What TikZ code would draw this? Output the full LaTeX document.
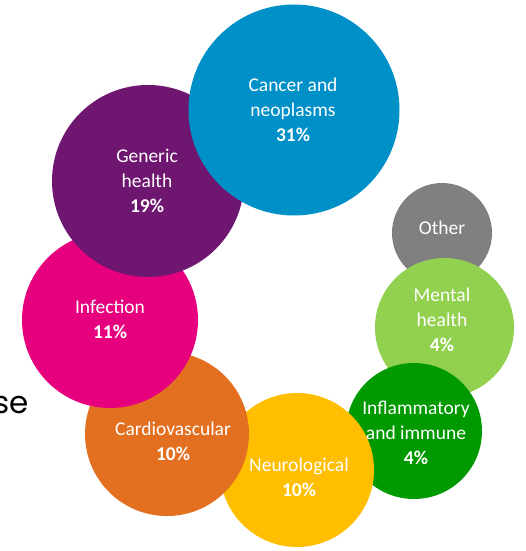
\documentclass[tikz,border=0pt]{standalone}
\usepackage{fontspec}
\setmainfont{Carlito}
\newfontfamily\gothic{Poppins}
\definecolor{cBlue}{RGB}{0,144,200}
\definecolor{cPurple}{RGB}{110,22,112}
\definecolor{cPink}{RGB}{230,0,126}
\definecolor{cOrange}{RGB}{227,112,32}
\definecolor{cYellow}{RGB}{255,190,0}
\definecolor{cGreen}{RGB}{0,154,0}
\definecolor{cLight}{RGB}{146,208,80}
\definecolor{cGrey}{RGB}{128,128,128}
\begin{document}
\begin{tikzpicture}[x=1pt,y=-1pt,
  bubble/.style={circle,draw=none,inner sep=0pt,minimum size=#1},
  lbl/.style={text=white,align=center,inner sep=0pt,font=\fontsize{19.5}{25}\selectfont}]
\useasboundingbox (0,0) rectangle (526,551);
% draw order: back to front
\node[bubble=100pt,fill=cGrey]   (other)  at (442,233) {};
\node[bubble=139pt,fill=cLight]  (mental) at (444.5,327.5) {};
\node[bubble=136pt,fill=cGreen]  (inflam) at (414,431) {};
\node[bubble=154pt,fill=cYellow] (neuro)  at (297,470) {};
\node[bubble=164pt,fill=cOrange] (cardio) at (167,434) {};
\node[bubble=176pt,fill=cPink]   (infect) at (110,320) {};
\node[bubble=192pt,fill=cPurple] (generic) at (148,181) {};
\node[bubble=211pt,fill=cBlue]   (cancer) at (294,110) {};
% labels
\node[lbl] (tcancer)  at (293,110) {Cancer and\\neoplasms\\\textbf{31\%}};
\node[lbl] (tgeneric) at (147,181) {Generic\\health\\\textbf{19\%}};
\node[lbl] (tinfect)  at (110,319) {Infection\\\textbf{11\%}};
\node[lbl] (tcardio)  at (173,441) {Cardiovascular\\\textbf{10\%}};
\node[lbl] (tneuro)   at (299,477) {Neurological\\\textbf{10\%}};
\node[lbl] (tinflam)  at (416,433) {Inflammatory\\and immune\\\textbf{4\%}};
\node[lbl] (tmental)  at (442,320) {Mental\\health\\\textbf{4\%}};
\node[lbl] (tother)   at (442,228) {Other};
% cut-off title text at left
\node[anchor=base east,inner sep=0pt,font=\gothic\fontsize{31}{31}\selectfont] (se) at (29,413) {se};
\end{tikzpicture}
\end{document}
